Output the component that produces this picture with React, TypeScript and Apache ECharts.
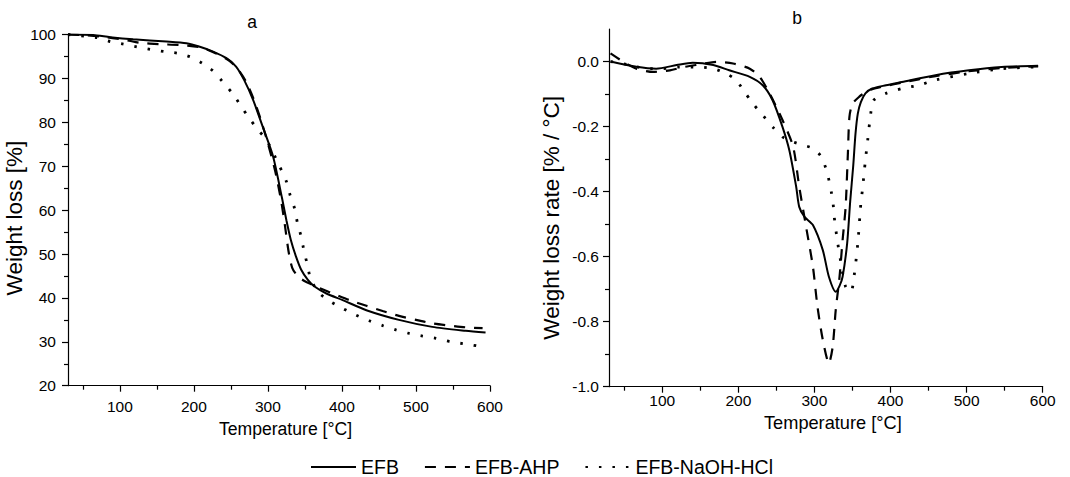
import React, { useEffect, useRef } from "react";
import * as echarts from "echarts";

// Temperature [°C], weight [%] — panel a (TG)
const tgEFB: [number, number][] = [
  [30, 100], [64, 99.9], [87, 99.4], [118, 98.9], [163, 98.4], [190, 98.0], [208, 97.2],
  [226, 96.1], [244, 94.6], [257, 92.7], [268, 89.6], [280, 85.1], [293, 79.0], [307, 72.2],
  [319, 62.8], [325, 57.7], [331, 53.2], [338, 49.4], [345, 46.4], [354, 44.1], [363, 42.6],
  [379, 41.0], [401, 39.5], [433, 37.2], [477, 35.0], [522, 33.4], [567, 32.5], [594, 32.1],
];
const tgAHP: [number, number][] = [
  [30, 100], [55, 99.8], [82, 99.4], [109, 98.7], [127, 98.1], [154, 97.8], [181, 97.6],
  [208, 97.1], [230, 95.7], [248, 94.0], [260, 92.0], [270, 89.4], [280, 85.6], [290, 80.8],
  [300, 75.2], [310, 68.8], [318, 62.0], [323, 56.5], [328, 50.5], [333, 46.8], [340, 45.0],
  [350, 43.8], [360, 43.0], [370, 42.2], [388, 41.0], [410, 39.5], [433, 38.2], [455, 37.0],
  [477, 35.9], [500, 35.0], [522, 34.2], [545, 33.7], [567, 33.3], [590, 33.1],
];
const tgNaOH: [number, number][] = [
  [30, 100], [46, 99.7], [69, 99.3], [87, 98.4], [105, 97.8], [123, 97.2], [141, 96.6],
  [161, 96.1], [179, 95.7], [197, 94.8], [212, 93.4], [226, 91.7], [239, 89.2], [253, 86.4],
  [264, 83.6], [275, 80.9], [287, 78.2], [298, 76.0], [316, 69.9], [325, 66.5], [330, 63.4],
  [336, 60.4], [340, 57.0], [345, 53.9], [349, 50.5], [354, 47.1], [358, 44.1], [370, 41.0],
  [385, 39.1], [401, 37.6], [419, 36.1], [437, 34.8], [455, 33.7], [473, 32.7], [491, 31.9],
  [509, 31.3], [527, 30.8], [547, 30.0], [567, 29.5], [585, 29.0],
];

// Temperature [°C], weight loss rate [%/°C] — panel b (DTG)
const dtgEFB: [number, number][] = [
  [32, 0], [66, -0.016], [92, -0.022], [119, -0.011], [140, -0.004], [167, -0.011],
  [188, -0.027], [215, -0.047], [232, -0.073], [245, -0.119], [258, -0.201], [267, -0.273],
  [276, -0.385], [280, -0.447], [287, -0.478], [298, -0.503], [311, -0.58], [319, -0.662],
  [328, -0.708], [333, -0.69], [337, -0.662], [343, -0.559], [347, -0.43], [351, -0.32],
  [354, -0.221], [357, -0.16], [361, -0.125], [367, -0.098], [376, -0.083], [394, -0.073],
  [415, -0.063], [459, -0.042], [503, -0.027], [546, -0.017], [594, -0.013],
];
const dtgAHP: [number, number][] = [
  [32, 0.025], [49, -0.001], [66, -0.022], [88, -0.032], [110, -0.027], [128, -0.017],
  [149, -0.009], [171, -0.001], [193, -0.006], [215, -0.022], [228, -0.047], [241, -0.098],
  [258, -0.18], [272, -0.262], [280, -0.385], [289, -0.508], [298, -0.631], [304, -0.754],
  [311, -0.856], [319, -0.928], [324, -0.877], [328, -0.764], [333, -0.662], [337, -0.549],
  [341, -0.447], [344, -0.28], [346, -0.17], [350, -0.13], [359, -0.108], [367, -0.095],
  [376, -0.085], [394, -0.075], [415, -0.065], [459, -0.045], [503, -0.03], [546, -0.02],
  [594, -0.015],
];
const dtgNaOH: [number, number][] = [
  [32, 0], [58, -0.011], [79, -0.022], [101, -0.022], [123, -0.017], [145, -0.017],
  [167, -0.022], [184, -0.037], [197, -0.057], [208, -0.093], [219, -0.129], [232, -0.165],
  [245, -0.201], [258, -0.232], [272, -0.247], [285, -0.257], [298, -0.267], [309, -0.293],
  [317, -0.344], [324, -0.426], [326, -0.478], [330, -0.549], [335, -0.621], [341, -0.693],
  [348, -0.708], [352, -0.662], [357, -0.559], [361, -0.436], [363, -0.396], [367, -0.303],
  [370, -0.242], [374, -0.16], [378, -0.119], [394, -0.098], [415, -0.083], [437, -0.073],
  [459, -0.057], [503, -0.037], [546, -0.022], [590, -0.017],
];

const seriesNames = ["EFB", "EFB-AHP", "EFB-NaOH-HCl"];
const xMajor = [100, 200, 300, 400, 500, 600];
const xMinor = [50, 150, 250, 350, 450, 550];
const tgMajor = [20, 30, 40, 50, 60, 70, 80, 90, 100];
const tgMinor = [25, 35, 45, 55, 65, 75, 85, 95];
const dtgMajor = [-1.0, -0.8, -0.6, -0.4, -0.2, 0.0];
const dtgMinor = [-0.9, -0.7, -0.5, -0.3, -0.1];

const FONT = "'Liberation Sans', Arial, sans-serif";
const BLACK = "#000";

const lineStyles = [
  { color: BLACK, width: 2 },
  { color: BLACK, width: 2.2, type: [11, 9] },
  { color: BLACK, width: 2.8, type: [2.5, 11] },
];

export default function App() {
  const ref = useRef<HTMLDivElement>(null);

  useEffect(() => {
    if (!ref.current) return;
    const chart = echarts.init(ref.current, undefined, { renderer: "svg" });

    const majorX = (grid: number, margin: number, nameGap: number, nameSize: number, padLeft: number) => ({
      type: "value",
      gridIndex: grid,
      position: "bottom",
      min: 30,
      max: 600,
      name: "Temperature [°C]",
      nameLocation: "middle",
      nameGap,
      nameTextStyle: { fontSize: nameSize, color: BLACK, fontFamily: FONT, padding: [0, 0, 0, padLeft] },
      axisLine: { show: true, onZero: false, lineStyle: { color: BLACK, width: 1.2 } },
      axisTick: { show: true, customValues: xMajor, length: 6, inside: false, lineStyle: { color: BLACK, width: 1.2 } },
      axisLabel: { customValues: xMajor, margin, fontSize: 15.5, color: BLACK, fontFamily: FONT },
      splitLine: { show: false },
    });
    const minorX = (grid: number) => ({
      type: "value",
      gridIndex: grid,
      position: "bottom",
      min: 30,
      max: 600,
      axisLine: { show: false, onZero: false },
      axisTick: { show: true, customValues: xMinor, length: 4, lineStyle: { color: BLACK, width: 1.2 } },
      axisLabel: { show: false },
      splitLine: { show: false },
    });
    const minorY = (grid: number, min: number, max: number, vals: number[]) => ({
      type: "value",
      gridIndex: grid,
      position: "left",
      min,
      max,
      axisLine: { show: false, onZero: false },
      axisTick: { show: true, customValues: vals, length: 4, lineStyle: { color: BLACK, width: 1.2 } },
      axisLabel: { show: false },
      splitLine: { show: false },
    });

    const mk = (name: string, data: [number, number][], xi: number, yi: number, style: any) => ({
      type: "line",
      name,
      data,
      xAxisIndex: xi,
      yAxisIndex: yi,
      symbol: "none",
      showSymbol: false,
      smooth: 0.25,
      color: BLACK,
      lineStyle: style,
      emphasis: { disabled: true },
    });

    chart.setOption({
      animation: false,
      backgroundColor: "#fff",
      textStyle: { fontFamily: FONT, color: BLACK },
      grid: [
        { left: 68, top: 34.5, width: 422, height: 351.2 },
        { left: 609, top: 29, width: 433.7, height: 357.7 },
      ],
      xAxis: [majorX(0, 13, 25, 17.6, 13), minorX(0), majorX(1, 6, 19, 18.2, 14), minorX(1)],
      yAxis: [
        {
          type: "value",
          gridIndex: 0,
          position: "left",
          min: 20,
          max: 100,
          name: "Weight loss [%]",
          nameLocation: "middle",
          nameRotate: 90,
          nameGap: 37,
          nameTextStyle: { fontSize: 22.5, color: BLACK, fontFamily: FONT, padding: [0, 16, 0, 0] },
          axisLine: { show: true, onZero: false, lineStyle: { color: BLACK, width: 1.2 } },
          axisTick: { show: true, customValues: tgMajor, length: 6, lineStyle: { color: BLACK, width: 1.2 } },
          axisLabel: { customValues: tgMajor, margin: 12, fontSize: 15.5, color: BLACK, fontFamily: FONT },
          splitLine: { show: false },
        },
        minorY(0, 20, 100, tgMinor),
        {
          type: "value",
          gridIndex: 1,
          position: "left",
          min: -1.0,
          max: 0.1,
          name: "Weight loss rate [% / °C]",
          nameLocation: "middle",
          nameRotate: 90,
          nameGap: 46,
          nameTextStyle: { fontSize: 22.5, color: BLACK, fontFamily: FONT, padding: [0, 20, 0, 0] },
          axisLine: { show: true, onZero: false, lineStyle: { color: BLACK, width: 1.2 } },
          axisTick: { show: true, customValues: dtgMajor, length: 6, lineStyle: { color: BLACK, width: 1.2 } },
          axisLabel: {
            customValues: dtgMajor,
            margin: 10,
            fontSize: 15.5,
            color: BLACK,
            fontFamily: FONT,
            formatter: (v: number) => (Math.abs(v) < 1e-9 ? 0 : v).toFixed(1),
          },
          splitLine: { show: false },
        },
        minorY(1, -1.0, 0.1, dtgMinor),
      ],
      legend: {
        left: 310,
        top: 457,
        padding: 0,
        itemWidth: 45,
        itemHeight: 14,
        itemGap: 25,
        data: seriesNames,
        itemStyle: { opacity: 0, borderWidth: 0 },
        textStyle: { fontSize: 19.5, color: BLACK, fontFamily: FONT },
        selectedMode: false,
      },
      graphic: [
        { type: "text", x: 252, y: 22, style: { text: "a", fontSize: 17.5, fontFamily: FONT, fill: BLACK, align: "center", verticalAlign: "middle" } },
        { type: "text", x: 797, y: 18, style: { text: "b", fontSize: 17.5, fontFamily: FONT, fill: BLACK, align: "center", verticalAlign: "middle" } },
      ],
      series: [
        mk(seriesNames[0], tgEFB, 0, 0, lineStyles[0]),
        mk(seriesNames[1], tgAHP, 0, 0, lineStyles[1]),
        mk(seriesNames[2], tgNaOH, 0, 0, lineStyles[2]),
        mk(seriesNames[0], dtgEFB, 2, 2, lineStyles[0]),
        mk(seriesNames[1], dtgAHP, 2, 2, lineStyles[1]),
        mk(seriesNames[2], dtgNaOH, 2, 2, lineStyles[2]),
      ],
    });

    return () => chart.dispose();
  }, []);

  return (
    <div
      ref={ref}
      style={{ position: "fixed", left: 0, top: 0, width: 1070, height: 477, background: "#fff" }}
    />
  );
}
